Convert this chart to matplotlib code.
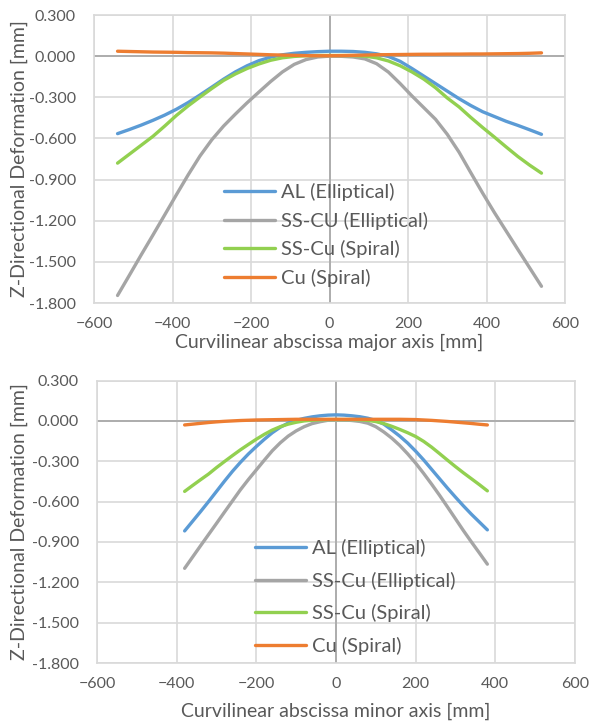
import matplotlib
matplotlib.use("Agg")
import matplotlib.pyplot as plt
from matplotlib.ticker import FormatStrFormatter

plt.rcParams['font.family'] = ['Lato', 'DejaVu Sans']

# --- dane: os glowna (major axis), co 30 mm ---
x_major = [-540, -510, -480, -450, -420, -390, -360, -330, -300, -270, -240, -210, -180, -150, -120, -90, -60, -30, 0,
           30, 60, 90, 120, 150, 180, 210, 240, 270, 300, 330, 360, 390, 420, 450, 480, 510, 540]
al_ell_major = [-0.565, -0.535, -0.503, -0.468, -0.43, -0.387, -0.338, -0.283, -0.226, -0.168, -0.115, -0.07,
                -0.033, -0.007, 0.01, 0.021, 0.028, 0.033, 0.036,
                0.036, 0.034, 0.028, 0.017, -0.002, -0.038, -0.09, -0.145, -0.2, -0.255, -0.31, -0.36, -0.405,
                -0.44, -0.475, -0.505, -0.537, -0.57]
sscu_ell_major = [-1.745, -1.598, -1.45, -1.305, -1.158, -1.01, -0.865, -0.728, -0.61, -0.51, -0.423, -0.34,
                  -0.262, -0.185, -0.115, -0.06, -0.025, -0.006, 0.0,
                  -0.001, -0.006, -0.02, -0.055, -0.116, -0.2, -0.29, -0.375, -0.46, -0.57, -0.7, -0.85, -0.998,
                  -1.14, -1.275, -1.41, -1.544, -1.678]
sscu_spi_major = [-0.78, -0.715, -0.65, -0.585, -0.51, -0.432, -0.362, -0.298, -0.236, -0.177, -0.13, -0.09,
                  -0.057, -0.03, -0.012, -0.002, 0.003, 0.005, 0.005,
                  0.005, 0.004, 0.0, -0.012, -0.035, -0.07, -0.115, -0.167, -0.23, -0.305, -0.37, -0.447, -0.52,
                  -0.59, -0.662, -0.732, -0.795, -0.853]
cu_spi_major = [0.036, 0.034, 0.032, 0.03, 0.029, 0.028, 0.026, 0.025, 0.024, 0.022, 0.019, 0.016,
                0.013, 0.01, 0.008, 0.006, 0.004, 0.003, 0.003,
                0.004, 0.006, 0.008, 0.01, 0.011, 0.012, 0.013, 0.014, 0.014, 0.015, 0.015, 0.016, 0.016,
                0.017, 0.018, 0.019, 0.021, 0.024]

# --- dane: os mala (minor axis), co 20 mm ---
x_minor = [-380, -360, -340, -320, -300, -280, -260, -240, -220, -200, -180, -160, -140, -120, -100, -80, -60, -40,
           -20, 0, 20, 40, 60, 80, 100, 120, 140, 160, 180, 200, 220, 240, 260, 280, 300, 320, 340, 360, 380]
al_ell_minor = [-0.818, -0.746, -0.674, -0.6, -0.524, -0.448, -0.375, -0.308, -0.246, -0.19, -0.137, -0.088,
                -0.047, -0.016, 0.004, 0.019, 0.03, 0.038, 0.043, 0.045,
                0.043, 0.038, 0.031, 0.02, 0.003, -0.024, -0.067, -0.113, -0.165, -0.225, -0.29, -0.36, -0.43,
                -0.5, -0.567, -0.632, -0.694, -0.752, -0.81]
sscu_ell_minor = [-1.096, -1.012, -0.928, -0.845, -0.762, -0.678, -0.595, -0.512, -0.436, -0.364, -0.292, -0.222,
                  -0.163, -0.113, -0.074, -0.043, -0.02, -0.006, 0.005, 0.01,
                  0.008, 0.003, -0.004, -0.017, -0.043, -0.082, -0.128, -0.182, -0.245, -0.314, -0.39, -0.47,
                  -0.553, -0.64, -0.728, -0.816, -0.9, -0.982, -1.065]
sscu_spi_minor = [-0.524, -0.48, -0.437, -0.395, -0.347, -0.302, -0.258, -0.215, -0.175, -0.136, -0.1, -0.068,
                  -0.043, -0.024, -0.01, 0.0, 0.005, 0.008, 0.01, 0.01,
                  0.01, 0.01, 0.008, 0.004, -0.005, -0.02, -0.04, -0.063, -0.088, -0.116, -0.152, -0.195,
                  -0.243, -0.292, -0.34, -0.386, -0.43, -0.474, -0.52]
cu_spi_minor = [-0.03, -0.024, -0.018, -0.012, -0.007, -0.003, 0.0, 0.003, 0.005, 0.007, 0.008, 0.009,
                0.01, 0.011, 0.012, 0.012, 0.012, 0.012, 0.012, 0.012,
                0.012, 0.012, 0.012, 0.012, 0.012, 0.012, 0.012, 0.012, 0.011, 0.01, 0.007, 0.004,
                0.0, -0.004, -0.009, -0.014, -0.019, -0.025, -0.03]

x_ticks = [-600, -400, -200, 0, 200, 400, 600]
y_ticks = [0.3, 0.0, -0.3, -0.6, -0.9, -1.2, -1.5, -1.8]

colors = ['#5B9BD5', '#A5A5A5', '#92D050', '#ED7D31']
text_col = '#595959'


def style_axes(ax):
    ax.set_xlim(-600, 600)
    ax.set_ylim(-1.8, 0.3)
    ax.set_xticks(x_ticks)
    ax.set_yticks(y_ticks)
    ax.yaxis.set_major_formatter(FormatStrFormatter('%.3f'))
    ax.grid(True, color='#D9D9D9', linewidth=1.2, zorder=0)
    ax.set_axisbelow(True)
    for s in ax.spines.values():
        s.set_color('#D9D9D9')
        s.set_linewidth(1.2)
    ax.tick_params(axis='both', length=0, labelsize=11.5, labelcolor=text_col)
    ax.tick_params(axis='y', pad=13)
    ax.tick_params(axis='x', pad=10)
    # osie w zerze
    ax.axhline(0, color='#ADADAD', linewidth=1.4, zorder=1)
    ax.axvline(0, color='#ADADAD', linewidth=1.4, zorder=1)


fig = plt.figure(figsize=(5.89, 7.22), dpi=100)

# wykres gorny
ax1 = fig.add_axes([0.1596, 0.5803, 0.7997, 0.3989])
style_axes(ax1)
labels1 = ['AL (Elliptical)', 'SS-CU (Elliptical)', 'SS-Cu (Spiral)', 'Cu (Spiral)']
for ys, c, lab in zip([al_ell_major, sscu_ell_major, sscu_spi_major, cu_spi_major], colors, labels1):
    ax1.plot(x_major, ys, color=c, linewidth=2.4, label=lab, zorder=3,
             solid_capstyle='round', solid_joinstyle='round')
ax1.legend(loc='center left', bbox_to_anchor=(224 / 589, 1 - 235 / 722), bbox_transform=fig.transFigure,
           frameon=False, fontsize=14.5, labelcolor=text_col, borderpad=0, borderaxespad=0,
           handlelength=2.53, handletextpad=0.3, labelspacing=0.53)
fig.text(0.5594, 1 - 342 / 722, 'Curvilinear abscissa major axis [mm]', ha='center', va='center',
         fontsize=14, color=text_col)
fig.text(19 / 589, 1 - 159 / 722, 'Z-Directional Deformation [mm]', ha='center', va='center',
         rotation=90, fontsize=14, color=text_col)

# wykres dolny
ax2 = fig.add_axes([0.1647, 0.0817, 0.8115, 0.3912])
style_axes(ax2)
labels2 = ['AL (Elliptical)', 'SS-Cu (Elliptical)', 'SS-Cu (Spiral)', 'Cu (Spiral)']
for ys, c, lab in zip([al_ell_minor, sscu_ell_minor, sscu_spi_minor, cu_spi_minor], colors, labels2):
    ax2.plot(x_minor, ys, color=c, linewidth=2.4, label=lab, zorder=3,
             solid_capstyle='round', solid_joinstyle='round')
ax2.legend(loc='center left', bbox_to_anchor=(255 / 589, 1 - 597 / 722), bbox_transform=fig.transFigure,
           frameon=False, fontsize=14.5, labelcolor=text_col, borderpad=0, borderaxespad=0,
           handlelength=2.53, handletextpad=0.3, labelspacing=0.72)
fig.text(0.5705, 1 - 711 / 722, 'Curvilinear abscissa minor axis [mm]', ha='center', va='center',
         fontsize=14, color=text_col)
fig.text(19 / 589, 1 - 522 / 722, 'Z-Directional Deformation [mm]', ha='center', va='center',
         rotation=90, fontsize=14, color=text_col)

fig.savefig('out.png', dpi=100)
